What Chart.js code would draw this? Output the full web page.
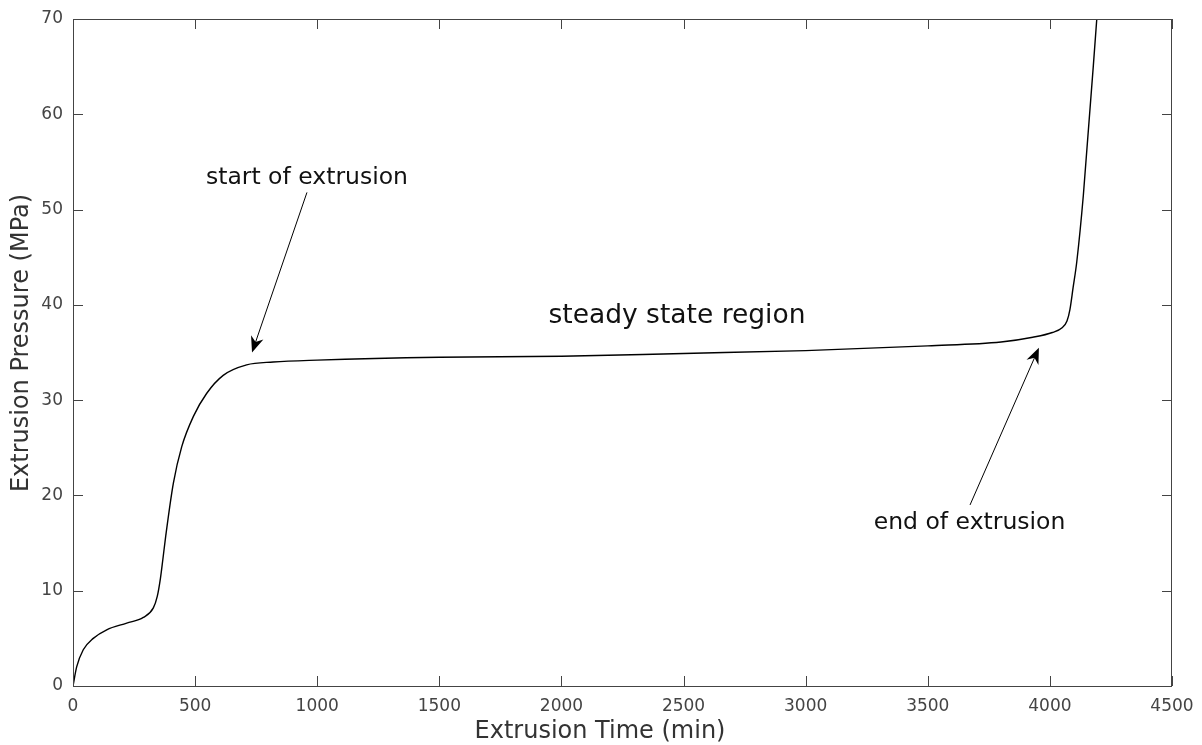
<!DOCTYPE html>
<html>
<head>
<meta charset="utf-8">
<script src="https://cdn.jsdelivr.net/npm/chart.js@4"></script>
<style>
  body { margin: 0; background: #fff; }
  canvas { display: block; }
</style>
</head>
<body>
<canvas id="pressureChart" width="1202" height="745"></canvas>
<script>
// Data
const timeMin = [0, 15, 42, 83, 138, 220, 288, 329, 345, 358, 368, 380, 411, 445, 493, 547, 615, 711, 820, 1000, 1500, 2000, 2500, 3000, 3500, 3800, 3930, 4010, 4050, 4070, 4082, 4095, 4110, 4137, 4192, 4200];
const pressureMPa = [0, 2.0, 3.8, 5.0, 5.9, 6.6, 7.2, 8.2, 9.4, 11.3, 13.3, 15.8, 21.3, 25.1, 28.3, 30.7, 32.6, 33.7, 34.0, 34.2, 34.5, 34.6, 34.9, 35.2, 35.7, 36.1, 36.6, 37.1, 37.6, 38.3, 39.5, 41.8, 44.5, 51.5, 70, 72.8];

// Axis titles
const xTitle = 'Extrusion Time (min)';
const yTitle = 'Extrusion Pressure (MPa)';

// Annotation texts and arrows (data coordinates)
const labelTexts = ['start of extrusion', 'steady state region', 'end of extrusion'];
const labelX = [958, 2473, 3671];
const labelY = [53.3, 38.8, 17.1];
const labelSize = [23.5, 26.5, 23.5];
const arrowFromX = [958, 3673];
const arrowFromY = [51.8, 19.0];
const arrowToX = [733, 3955];
const arrowToY = [35.0, 35.5];

const axisColor = '#444';
const fontFamily = '"DejaVu Sans", sans-serif';

// Draw the box, inward ticks, axis titles, annotations and arrows
const decorPlugin = {
    id: 'decor',
    afterDatasetsDraw(chart) {
        const ctx = chart.ctx;
        const area = chart.chartArea;
        const xs = chart.scales.x;
        const ys = chart.scales.y;
        ctx.save();

        // box
        ctx.strokeStyle = axisColor;
        ctx.lineWidth = 1;
        ctx.strokeRect(area.left + 0.5, area.top + 0.5, area.right - area.left - 1, area.bottom - area.top);

        // inward ticks on all four sides
        const tl = 10;
        ctx.beginPath();
        xs.ticks.forEach(t => {
            const px = Math.round(xs.getPixelForValue(t.value)) + 0.5;
            ctx.moveTo(px, area.bottom); ctx.lineTo(px, area.bottom - tl);
            ctx.moveTo(px, area.top); ctx.lineTo(px, area.top + tl);
        });
        ys.ticks.forEach(t => {
            const py = Math.round(ys.getPixelForValue(t.value)) + 0.5;
            ctx.moveTo(area.left, py); ctx.lineTo(area.left + tl, py);
            ctx.moveTo(area.right, py); ctx.lineTo(area.right - tl, py);
        });
        ctx.stroke();

        // axis titles (centred on the figure, like the original)
        ctx.fillStyle = '#333';
        ctx.textAlign = 'center';
        ctx.textBaseline = 'middle';
        ctx.font = '24px ' + fontFamily;
        ctx.fillText(xTitle, 600, 732);
        ctx.save();
        ctx.translate(22, 343);
        ctx.rotate(-Math.PI / 2);
        ctx.fillText(yTitle, 0, 0);
        ctx.restore();

        // labels
        ctx.fillStyle = '#111';
        labelTexts.forEach((txt, i) => {
            ctx.font = labelSize[i] + 'px ' + fontFamily;
            ctx.fillText(txt, xs.getPixelForValue(labelX[i]), ys.getPixelForValue(labelY[i]));
        });

        // arrows
        ctx.strokeStyle = '#000';
        ctx.fillStyle = '#000';
        ctx.lineWidth = 1;
        arrowFromX.forEach((fx, i) => {
            const x1 = xs.getPixelForValue(fx), y1 = ys.getPixelForValue(arrowFromY[i]);
            const x2 = xs.getPixelForValue(arrowToX[i]), y2 = ys.getPixelForValue(arrowToY[i]);
            const ang = Math.atan2(y2 - y1, x2 - x1);
            const len = 16, half = 6.5;
            ctx.beginPath();
            ctx.moveTo(x1, y1);
            ctx.lineTo(x2 - Math.cos(ang) * 8, y2 - Math.sin(ang) * 8);
            ctx.stroke();
            const bx = x2 - Math.cos(ang) * len, by = y2 - Math.sin(ang) * len;
            const nx = x2 - Math.cos(ang) * (len - 5), ny = y2 - Math.sin(ang) * (len - 5);
            ctx.beginPath();
            ctx.moveTo(x2, y2);
            ctx.lineTo(bx + Math.sin(ang) * half, by - Math.cos(ang) * half);
            ctx.lineTo(nx, ny);
            ctx.lineTo(bx - Math.sin(ang) * half, by + Math.cos(ang) * half);
            ctx.closePath();
            ctx.fill();
        });
        ctx.restore();
    }
};

const ctx = document.getElementById('pressureChart').getContext('2d');
const chart = new Chart(ctx, {
    type: 'line',
    data: {
        datasets: [{
            data: timeMin.map((t, i) => ({ x: t, y: pressureMPa[i] })),
            borderColor: '#000',
            borderWidth: 1.4,
            pointRadius: 0,
            fill: false,
            cubicInterpolationMode: 'monotone'
        }]
    },
    options: {
        responsive: false,
        animation: false,
        events: [],
        layout: { autoPadding: false, padding: { top: 19, right: 30, left: 0, bottom: 0 } },
        plugins: {
            legend: { display: false },
            tooltip: { enabled: false }
        },
        scales: {
            x: {
                type: 'linear',
                min: 0,
                max: 4500,
                afterFit: s => { s.height = 59; s.paddingLeft = 0; s.paddingRight = 0; },
                grid: { display: false, drawTicks: false },
                border: { display: false },
                ticks: {
                    stepSize: 500,
                    padding: 10,
                    color: axisColor,
                    font: { family: fontFamily, size: 17 },
                    maxRotation: 0,
                    callback: v => String(v)
                }
            },
            y: {
                min: 0,
                max: 70,
                afterFit: s => { s.width = 73; s.paddingTop = 0; s.paddingBottom = 0; },
                grid: { display: false, drawTicks: false },
                border: { display: false },
                ticks: {
                    stepSize: 10,
                    padding: 10,
                    color: axisColor,
                    font: { family: fontFamily, size: 17 },
                    callback: v => String(v)
                }
            }
        }
    },
    plugins: [decorPlugin]
});
</script>
</body>
</html>
